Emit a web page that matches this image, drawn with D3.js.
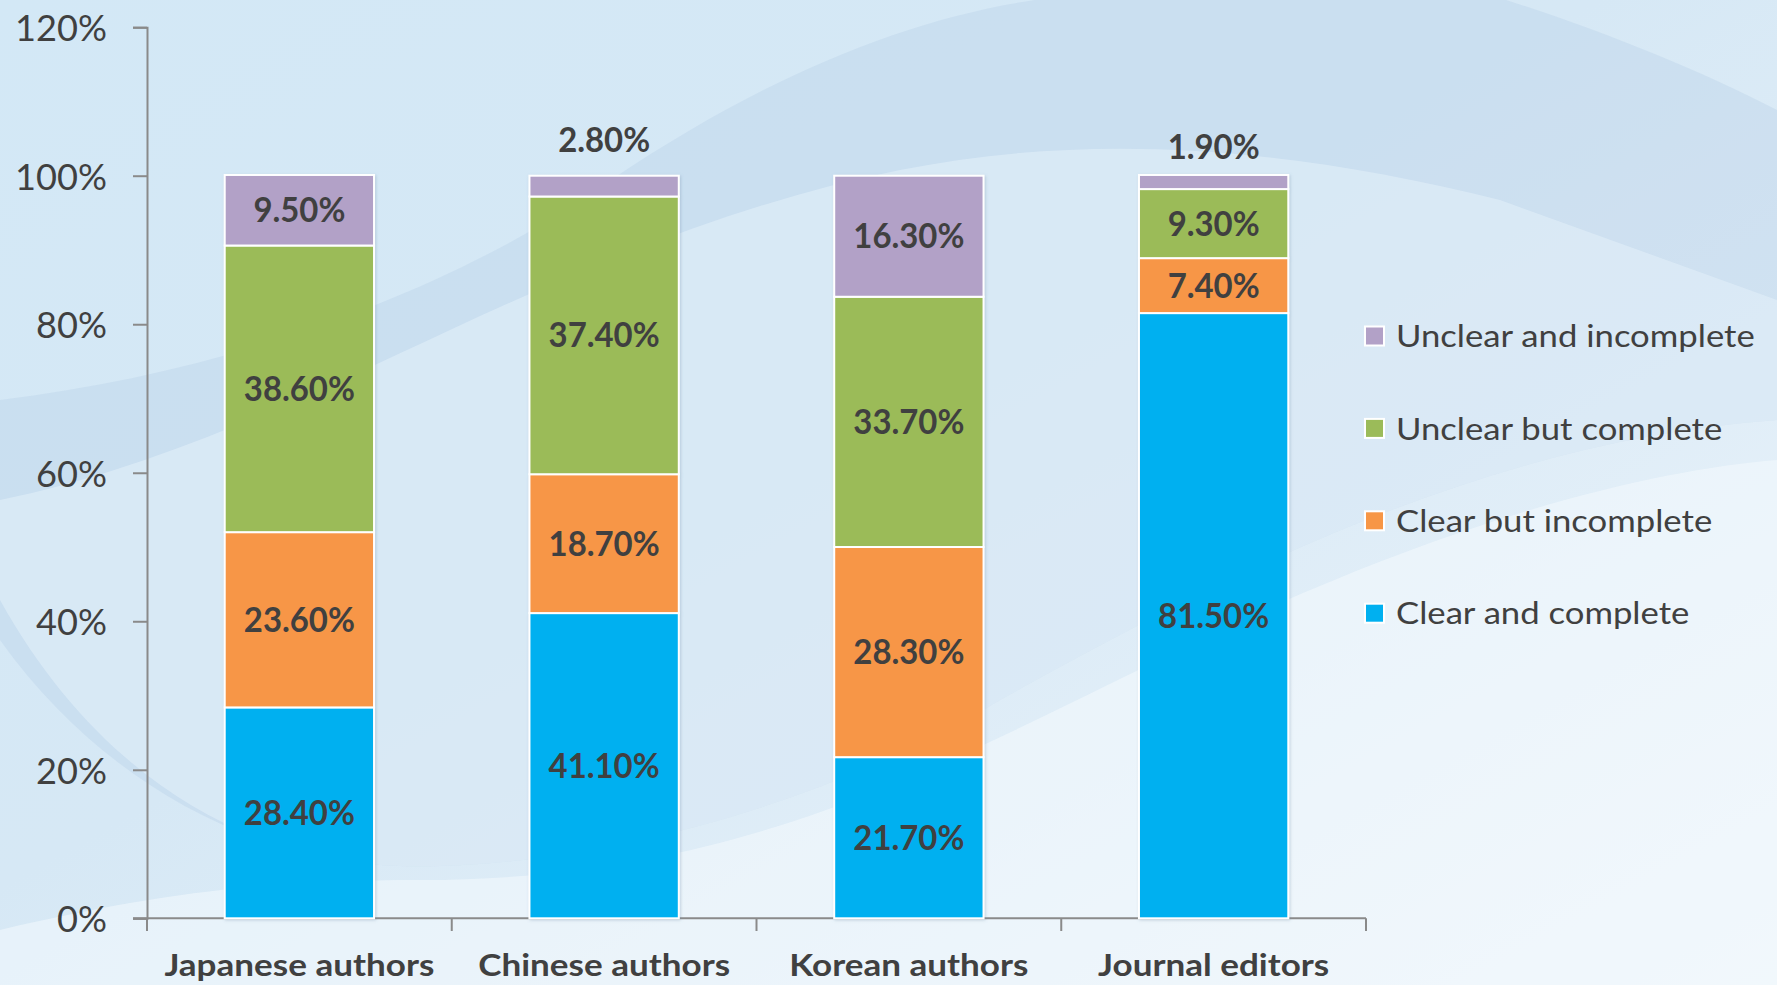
<!DOCTYPE html>
<html><head><meta charset="utf-8">
<script src="https://cdn.jsdelivr.net/npm/d3@7"></script>
<style>
html,body{margin:0;padding:0;overflow:hidden;background:#d8eaf6;}
svg{display:block;}
</style></head>
<body>
<svg id="chart" width="1777" height="985"></svg>
<script>
const categories = ["Japanese authors", "Chinese authors", "Korean authors", "Journal editors"];
const seriesNames = ["Clear and complete", "Clear but incomplete", "Unclear but complete", "Unclear and incomplete"];
const clearComplete = [28.4, 41.1, 21.7, 81.5];
const clearIncomplete = [23.6, 18.7, 28.3, 7.4];
const unclearComplete = [38.6, 37.4, 33.7, 9.3];
const unclearIncomplete = [9.5, 2.8, 16.3, 1.9];
const yTicks = [0, 20, 40, 60, 80, 100, 120];
const colors = ["#00b0f0", "#f79646", "#9bbb59", "#b2a1c7"];

const seriesValues = [clearComplete, clearIncomplete, unclearComplete, unclearIncomplete];
const W = 1777, H = 985;
const svg = d3.select("#chart");
const FONT = "Lato, 'Open Sans', sans-serif";

// background
const defs = svg.append("defs");
const bg = defs.append("linearGradient").attr("id","bg").attr("x1","0").attr("y1","0").attr("x2","1").attr("y2","1");
bg.append("stop").attr("offset","0").attr("stop-color","#d3e8f6");
bg.append("stop").attr("offset","0.45").attr("stop-color","#d6e8f5");
bg.append("stop").attr("offset","1").attr("stop-color","#eef5fb");
svg.append("rect").attr("width",W).attr("height",H).attr("fill","url(#bg)");
const bgG = svg.append("g");
bgG.append("path").attr("fill","#b7cfe8").attr("opacity",0.38)
  .attr("d","M0,400 C250,370 470,280 611,180 C760,80 900,20 1035,0 L1506,0 C1600,30 1700,70 1777,110 L1777,420 C1500,440 1250,560 1000,700 C800,820 560,870 400,866 C250,862 100,780 0,640 Z");
bgG.append("path").attr("fill","#e4f0f9").attr("opacity",0.55)
  .attr("d","M0,500 C150,470 300,400 450,330 C600,260 750,200 900,170 C1100,130 1300,150 1500,200 L1777,300 L1777,420 C1500,440 1250,560 1000,700 C800,820 560,870 400,866 C250,862 100,780 0,600 Z");
bgG.append("path").attr("fill","#f4f9fd").attr("opacity",0.55)
  .attr("d","M0,930 C150,895 260,880 420,880 C750,880 950,760 1200,640 C1450,520 1650,470 1777,460 L1777,985 L0,985 Z");

// scales
const x = d3.scaleBand().domain(categories).range([147, 1366]).paddingInner(0.51).paddingOuter(0.255);
const y = d3.scaleLinear().domain([0, 120]).range([918.3, 27.2]);

function measure(str, weight, size){
  const t = svg.append("text").attr("font-family",FONT).attr("font-weight",weight).attr("font-size",size).text(str);
  const w = t.node().getComputedTextLength(); t.remove();
  return w;
}
const tickSize = 37, valSize = 33.5, catSize = 31, legSize = 31;
const tickR = 92 / measure("120%", 400, tickSize);
const valR = 92 / measure("9.50%", 700, valSize);
const catR = 270 / measure("Japanese authors", 700, catSize);
const legR = 359 / measure("Unclear and incomplete", 400, legSize);
function condense(sel, r){
  sel.each(function(){
    const t = d3.select(this);
    const x0 = +t.attr("x") || 0;
    t.attr("transform", `translate(${x0},0) scale(${r},1) translate(${-x0},0)`);
  });
}

const rows = categories.map((c,i)=>{ const o={cat:c}; seriesNames.forEach((s,j)=>o[s]=seriesValues[j][i]); return o; });
const stacked = d3.stack().keys(seriesNames)(rows);

// y axis
const yAxis = svg.append("g").attr("transform","translate(147,0)")
  .call(d3.axisLeft(y).tickValues(yTicks).tickSize(14).tickPadding(26).tickFormat(d=>d+"%"));
yAxis.select(".domain").attr("stroke","#8a8a8a").attr("stroke-width",2);
yAxis.selectAll(".tick line").attr("stroke","#8a8a8a").attr("stroke-width",2);
yAxis.selectAll(".tick text").attr("fill","#404040").attr("font-family",FONT).attr("font-size",tickSize).attr("dy","0.36em")
  .call(condense, tickR);

// x axis
const xAxis = svg.append("g").attr("transform","translate(0,918.3)")
  .call(d3.axisBottom(x).tickSize(0).tickSizeOuter(0).tickPadding(36));
xAxis.select(".domain").attr("stroke","#8a8a8a").attr("stroke-width",2).attr("d","M133,0H1366");
xAxis.selectAll(".tick text").attr("fill","#404040").attr("font-family",FONT).attr("font-weight",700).attr("font-size",catSize)
  .call(condense, catR);
const bounds = [0,1,2,3,4].map(i=> x.range()[0] + i*x.step());
svg.append("g").selectAll("line").data(bounds).join("line")
  .attr("x1",d=>d).attr("x2",d=>d).attr("y1",918.3).attr("y2",931)
  .attr("stroke","#8a8a8a").attr("stroke-width",2);

// bars
const shadow = defs.append("filter").attr("id","sh").attr("x","-10%").attr("y","-10%").attr("width","120%").attr("height","120%");
shadow.append("feDropShadow").attr("dx",1).attr("dy",1).attr("stdDeviation",1.5).attr("flood-color","#6f8aa6").attr("flood-opacity",0.35);
const barG = svg.append("g").attr("filter","url(#sh)");
stacked.forEach((layer,j)=>{
  barG.append("g").selectAll("rect").data(layer).join("rect")
    .attr("x",d=>x(d.data.cat)).attr("width",x.bandwidth())
    .attr("y",d=>y(d[1])).attr("height",d=>y(d[0])-y(d[1]))
    .attr("fill",colors[j]).attr("stroke","#ffffff").attr("stroke-width",2);
});

// value labels
const lblG = svg.append("g");
stacked.forEach((layer,j)=>{
  layer.forEach((d,i)=>{
    const v = d[1]-d[0];
    let cy = (y(d[0])+y(d[1]))/2;
    if (v < 5) cy = y(d[1]) - (i===1 ? 36 : 28);
    lblG.append("text").attr("x",x(d.data.cat)+x.bandwidth()/2).attr("y",cy).attr("dy","0.36em")
      .attr("text-anchor","middle").attr("font-family",FONT).attr("font-weight",700)
      .attr("font-size",valSize).attr("fill","#404040").text(seriesValues[j][i].toFixed(2)+"%");
  });
});
lblG.selectAll("text").call(condense, valR);

// legend
const legOrder = [3,2,1,0];
const lg = svg.append("g");
legOrder.forEach((j,k)=>{
  const cy = 336 + k*92.4;
  lg.append("rect").attr("x",1365).attr("y",cy-9.5).attr("width",19).attr("height",19)
    .attr("fill",colors[j]).attr("stroke","#ffffff").attr("stroke-width",2);
  lg.append("text").attr("x",1396).attr("y",cy).attr("dy","0.36em").attr("font-family",FONT)
    .attr("font-size",legSize).attr("fill","#404040").text(seriesNames[j]);
});
lg.selectAll("text").call(condense, legR);
</script>
</body></html>
